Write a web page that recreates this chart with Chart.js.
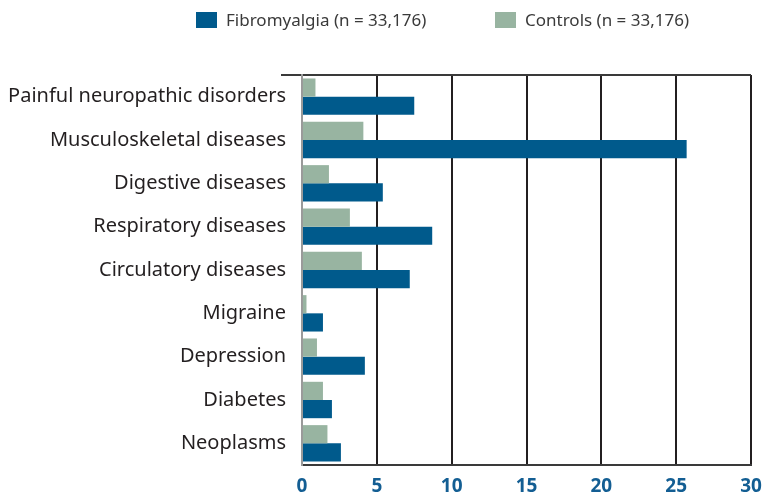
<!DOCTYPE html>
<html>
<head>
<meta charset="utf-8">
<script src="https://cdn.jsdelivr.net/npm/chart.js@4.4.0/dist/chart.umd.min.js"></script>
<style>
    html, body { margin: 0; padding: 0; background: #fff; }
    #wrap { position: relative; width: 763px; height: 498px; }
    .legend-item { position: absolute; top: 9px; font-family: "Noto Sans", sans-serif; font-size: 17px; color: #3a3a3a; white-space: nowrap; line-height: 22px; }
    .legend-item span.box { display: inline-block; width: 21px; height: 16px; vertical-align: -2px; margin-right: 9px; }
</style>
</head>
<body>
<div id="wrap">
    <canvas id="fmChart" width="763" height="498"></canvas>
    <div class="legend-item" style="left:196px"><span class="box" style="background:#005a8c"></span>Fibromyalgia (n = 33,176)</div>
    <div class="legend-item" style="left:495px"><span class="box" style="background:#98b4a1"></span>Controls (n = 33,176)</div>
</div>
<script>
const categories = [
    'Painful neuropathic disorders',
    'Musculoskeletal diseases',
    'Digestive diseases',
    'Respiratory diseases',
    'Circulatory diseases',
    'Migraine',
    'Depression',
    'Diabetes',
    'Neoplasms'
];
const fibromyalgia = [7.5, 25.7, 5.4, 8.7, 7.2, 1.4, 4.2, 2.0, 2.6];
const controls = [0.9, 4.1, 1.8, 3.2, 4.0, 0.3, 1.0, 1.4, 1.7];
const xTicks = [0, 5, 10, 15, 20, 25, 30];

document.addEventListener('DOMContentLoaded', () => {
    const ctx = document.getElementById('fmChart').getContext('2d');
    const lastLine = categories.length;
    new Chart(ctx, {
        type: 'bar',
        data: {
            labels: categories,
            datasets: [{
                label: 'Controls (n = 33,176)',
                data: controls,
                backgroundColor: '#98b4a1',
                categoryPercentage: 0.84,
                barPercentage: 1
            }, {
                label: 'Fibromyalgia (n = 33,176)',
                data: fibromyalgia,
                backgroundColor: '#005a8c',
                categoryPercentage: 0.84,
                barPercentage: 1
            }]
        },
        options: {
            indexAxis: 'y',
            responsive: false,
            animation: false,
            layout: { padding: { top: 75, right: 12, bottom: 0, left: 0 } },
            plugins: {
                legend: { display: false },
                tooltip: { enabled: false }
            },
            scales: {
                x: {
                    min: 0,
                    max: 30,
                    afterBuildTicks: (scale) => { scale.ticks = xTicks.map(v => ({ value: v })); },
                    afterFit: (scale) => {
                        scale.height = 33;
                        scale.paddingRight = 0;
                        scale.paddingLeft = 0;
                    },
                    grid: {
                        color: (c) => c.tick && c.tick.value === 0 ? '#9a9a9a' : '#231f20',
                        lineWidth: 2,
                        drawTicks: false
                    },
                    border: { color: '#3a3a3a', width: 2 },
                    ticks: {
                        padding: 10,
                        color: '#135e93',
                        font: { family: 'Noto Sans', size: 19, weight: 'bold' }
                    }
                },
                y: {
                    afterFit: (scale) => { scale.width = 302; },
                    grid: {
                        color: (c) => c.index === 0 ? '#3a3a3a' : 'rgba(0,0,0,0)',
                        tickColor: (c) => (c.index === 0 || c.index === lastLine) ? '#3a3a3a' : 'rgba(0,0,0,0)',
                        lineWidth: 2,
                        tickLength: 21
                    },
                    border: { color: '#9a9a9a', width: 2 },
                    ticks: {
                        padding: -5,
                        color: '#231f20',
                        font: { family: 'Noto Sans', size: 20 }
                    }
                }
            }
        }
    });
});
</script>
</body>
</html>
